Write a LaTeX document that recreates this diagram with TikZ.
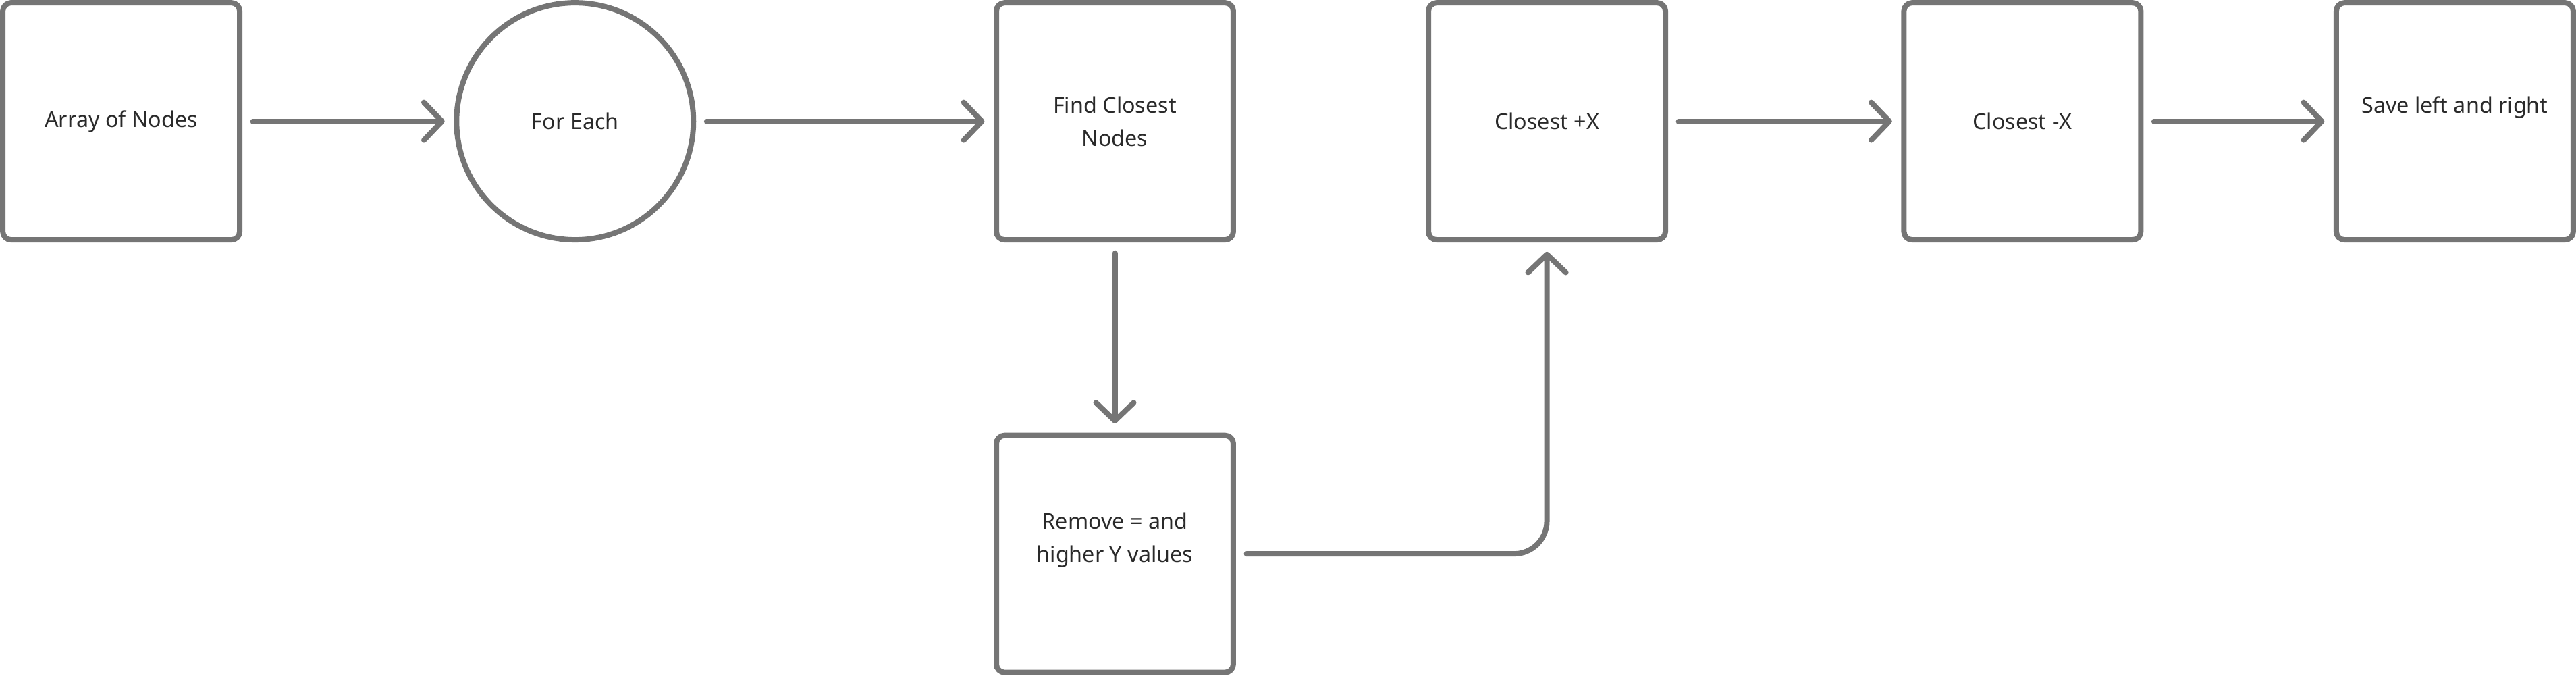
\documentclass[tikz,border=0pt]{standalone}
\usepackage{fontspec}
\setmainfont{Noto Sans}
\usetikzlibrary{arrows.meta}

\definecolor{linegray}{HTML}{757575}
\definecolor{textdark}{HTML}{2A2A2A}

\tikzset{
    stepbox/.style={draw=linegray, line width=0.164cm,
        rounded corners=0.25cm,
        minimum width=7.21cm, minimum height=7.21cm,
        inner sep=0pt, align=center, text=textdark,
        font=\fontsize{18.9}{28.4}\selectfont},
    stepcircle/.style={stepbox, circle, rounded corners=0pt,
        minimum size=7.21cm},
    flow/.style={draw=linegray, line width=0.164cm, line cap=round,
        line join=round,
        -{Straight Barb[length=0.55cm, width=1.15cm, line cap=round, line join=round]},
        shorten <=0.32cm, shorten >=0.28cm},
}

\begin{document}
\begin{tikzpicture}
        \useasboundingbox (0,0) rectangle (78.4,-20.55);

        % array
        \node [stepbox] (array) at (3.69,-3.69){Array of Nodes};

        % loop
        \node [stepcircle] (foreach) at (17.5,-3.69){For Each};

        % find
        \node [stepbox] (find) at (33.93,-3.69){Find Closest\\Nodes};

        % remove
        \node [stepbox] (remove) at (33.93,-16.85){Remove = and\\higher Y values\\~};

        % +x
        \node [stepbox] (plusx) at (47.08,-3.69){Closest +X};

        % -x
        \node [stepbox] (minusx) at (61.55,-3.69){Closest -X};

        % save
        \node [stepbox] (save) at (74.71,-3.69){Save left and right\\~};

        \draw[flow] (array.east)--(foreach.west);
        \draw[flow] (foreach.east)--(find.west);
        \draw[flow] (find.south)--(remove.north);
        \draw[flow, rounded corners=1cm] (remove.east) -| (plusx.south);
        \draw[flow] (plusx.east)--(minusx.west);
        \draw[flow] (minusx.east)--(save.west);
        \end{tikzpicture}
\end{document}
